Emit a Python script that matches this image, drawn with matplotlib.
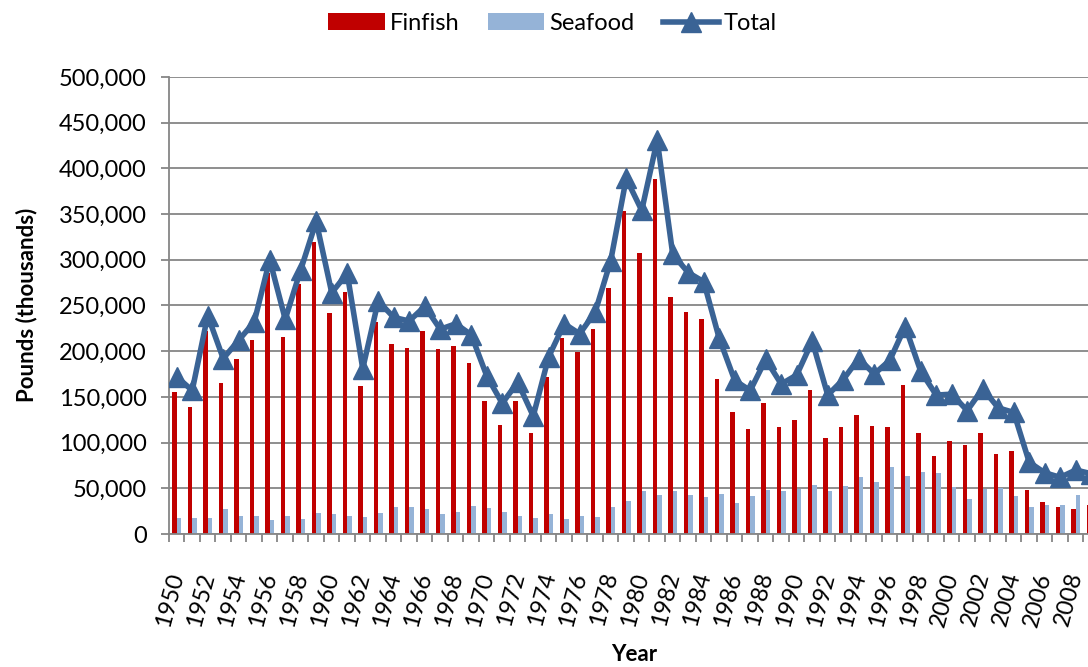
import matplotlib.pyplot as plt
import numpy as np
from matplotlib.ticker import FuncFormatter, FixedLocator

plt.rcParams['font.family'] = ['Lato', 'DejaVu Sans']

years = list(range(1950, 2010))

finfish = [155000, 139000, 222000, 165000, 192000, 212000, 285000, 215000, 273000, 319000,
           242000, 265000, 162000, 232000, 208000, 203000, 222000, 202000, 206000, 187000,
           145000, 119000, 146000, 111000, 172000, 214000, 199000, 224000, 269000, 353000,
           307000, 388000, 259000, 243000, 235000, 170000, 134000, 115000, 143000, 117000,
           125000, 157000, 105000, 117000, 130000, 118000, 117000, 163000, 110000, 85000,
           102000, 97000, 110000, 88000, 91000, 48500, 35000, 30000, 27000, 32000]

seafood = [17000, 18000, 17000, 27000, 20000, 20000, 15000, 20000, 16000, 23000,
           22000, 20000, 19000, 23000, 29000, 30000, 27000, 22000, 24000, 31000,
           28000, 24000, 20000, 18000, 22000, 16000, 20000, 19000, 30000, 36000,
           47000, 43000, 47000, 43000, 41000, 44000, 34000, 42000, 48000, 47000,
           49000, 54000, 47000, 52000, 62000, 57000, 73000, 64000, 68000, 67000,
           51000, 38000, 49000, 50000, 42000, 30000, 32000, 32000, 43000, 34000]

total = [172000, 157000, 239000, 192000, 212000, 232000, 300000, 235000, 289000, 342000,
         264000, 285000, 181000, 255000, 237000, 233000, 249000, 224000, 230000, 218000,
         173000, 143000, 166000, 129000, 194000, 230000, 219000, 243000, 299000, 389000,
         354000, 431000, 306000, 286000, 276000, 214000, 168000, 157000, 191000, 164000,
         174000, 211000, 152000, 169000, 192000, 175000, 190000, 227000, 178000, 152000,
         153000, 135000, 159000, 138000, 133000, 78500, 67000, 62000, 70000, 66000]

x = np.arange(len(years))

fig = plt.figure(figsize=(10.88, 6.67), dpi=100)
ax = fig.add_axes([0.1553, 0.1994, 0.8548, 0.6852])

grey = '#868686'
b1 = ax.bar(x - 0.15, finfish, width=0.29, color='#C00000', label='Finfish', zorder=2)
b2 = ax.bar(x + 0.15, seafood, width=0.29, color='#95B3D7', label='Seafood', zorder=2)
l1, = ax.plot(x, total, color='#3A6395', lw=4, marker='^', markersize=14,
              label='Total', zorder=3)

ax.set_xlim(-0.5, len(years) - 0.5)
ax.set_ylim(0, 500000)
ax.set_yticks(np.arange(0, 500001, 50000))
ax.yaxis.set_major_formatter(FuncFormatter(lambda v, p: f'{int(v):,}'))
ax.grid(axis='y', color=grey, lw=1.3, zorder=0)
ax.set_axisbelow(True)

ax.set_xticks(x[::2])
ax.set_xticklabels([str(y) for y in years[::2]], rotation=75, ha='right',
                   va='center', rotation_mode='anchor')
ax.xaxis.set_minor_locator(FixedLocator(np.arange(-0.5, len(years), 1)))
ax.tick_params(axis='x', which='major', length=0, pad=28, labelsize=17)
ax.tick_params(axis='x', which='minor', length=6, width=1.3, color=grey)
ax.tick_params(axis='y', length=6, width=1.3, color=grey, labelsize=17, pad=10)

for s in ['top', 'right']:
    ax.spines[s].set_visible(False)
for s in ['left', 'bottom']:
    ax.spines[s].set_color(grey)
    ax.spines[s].set_linewidth(1.3)

fig.text(0.024, 0.543, 'Pounds (thousands)', rotation=90, ha='center', va='center',
         fontsize=16, fontweight='bold')
fig.text(0.583, 0.018, 'Year', ha='center', va='center',
         fontsize=16, fontweight='bold')

fig.legend(handles=[b1, b2, l1], loc='center', bbox_to_anchor=(0.508, 0.965),
           ncol=3, frameon=False, fontsize=17, handlelength=2.4,
           columnspacing=1.2, handletextpad=0.2)

fig.savefig('out.png', dpi=100)
